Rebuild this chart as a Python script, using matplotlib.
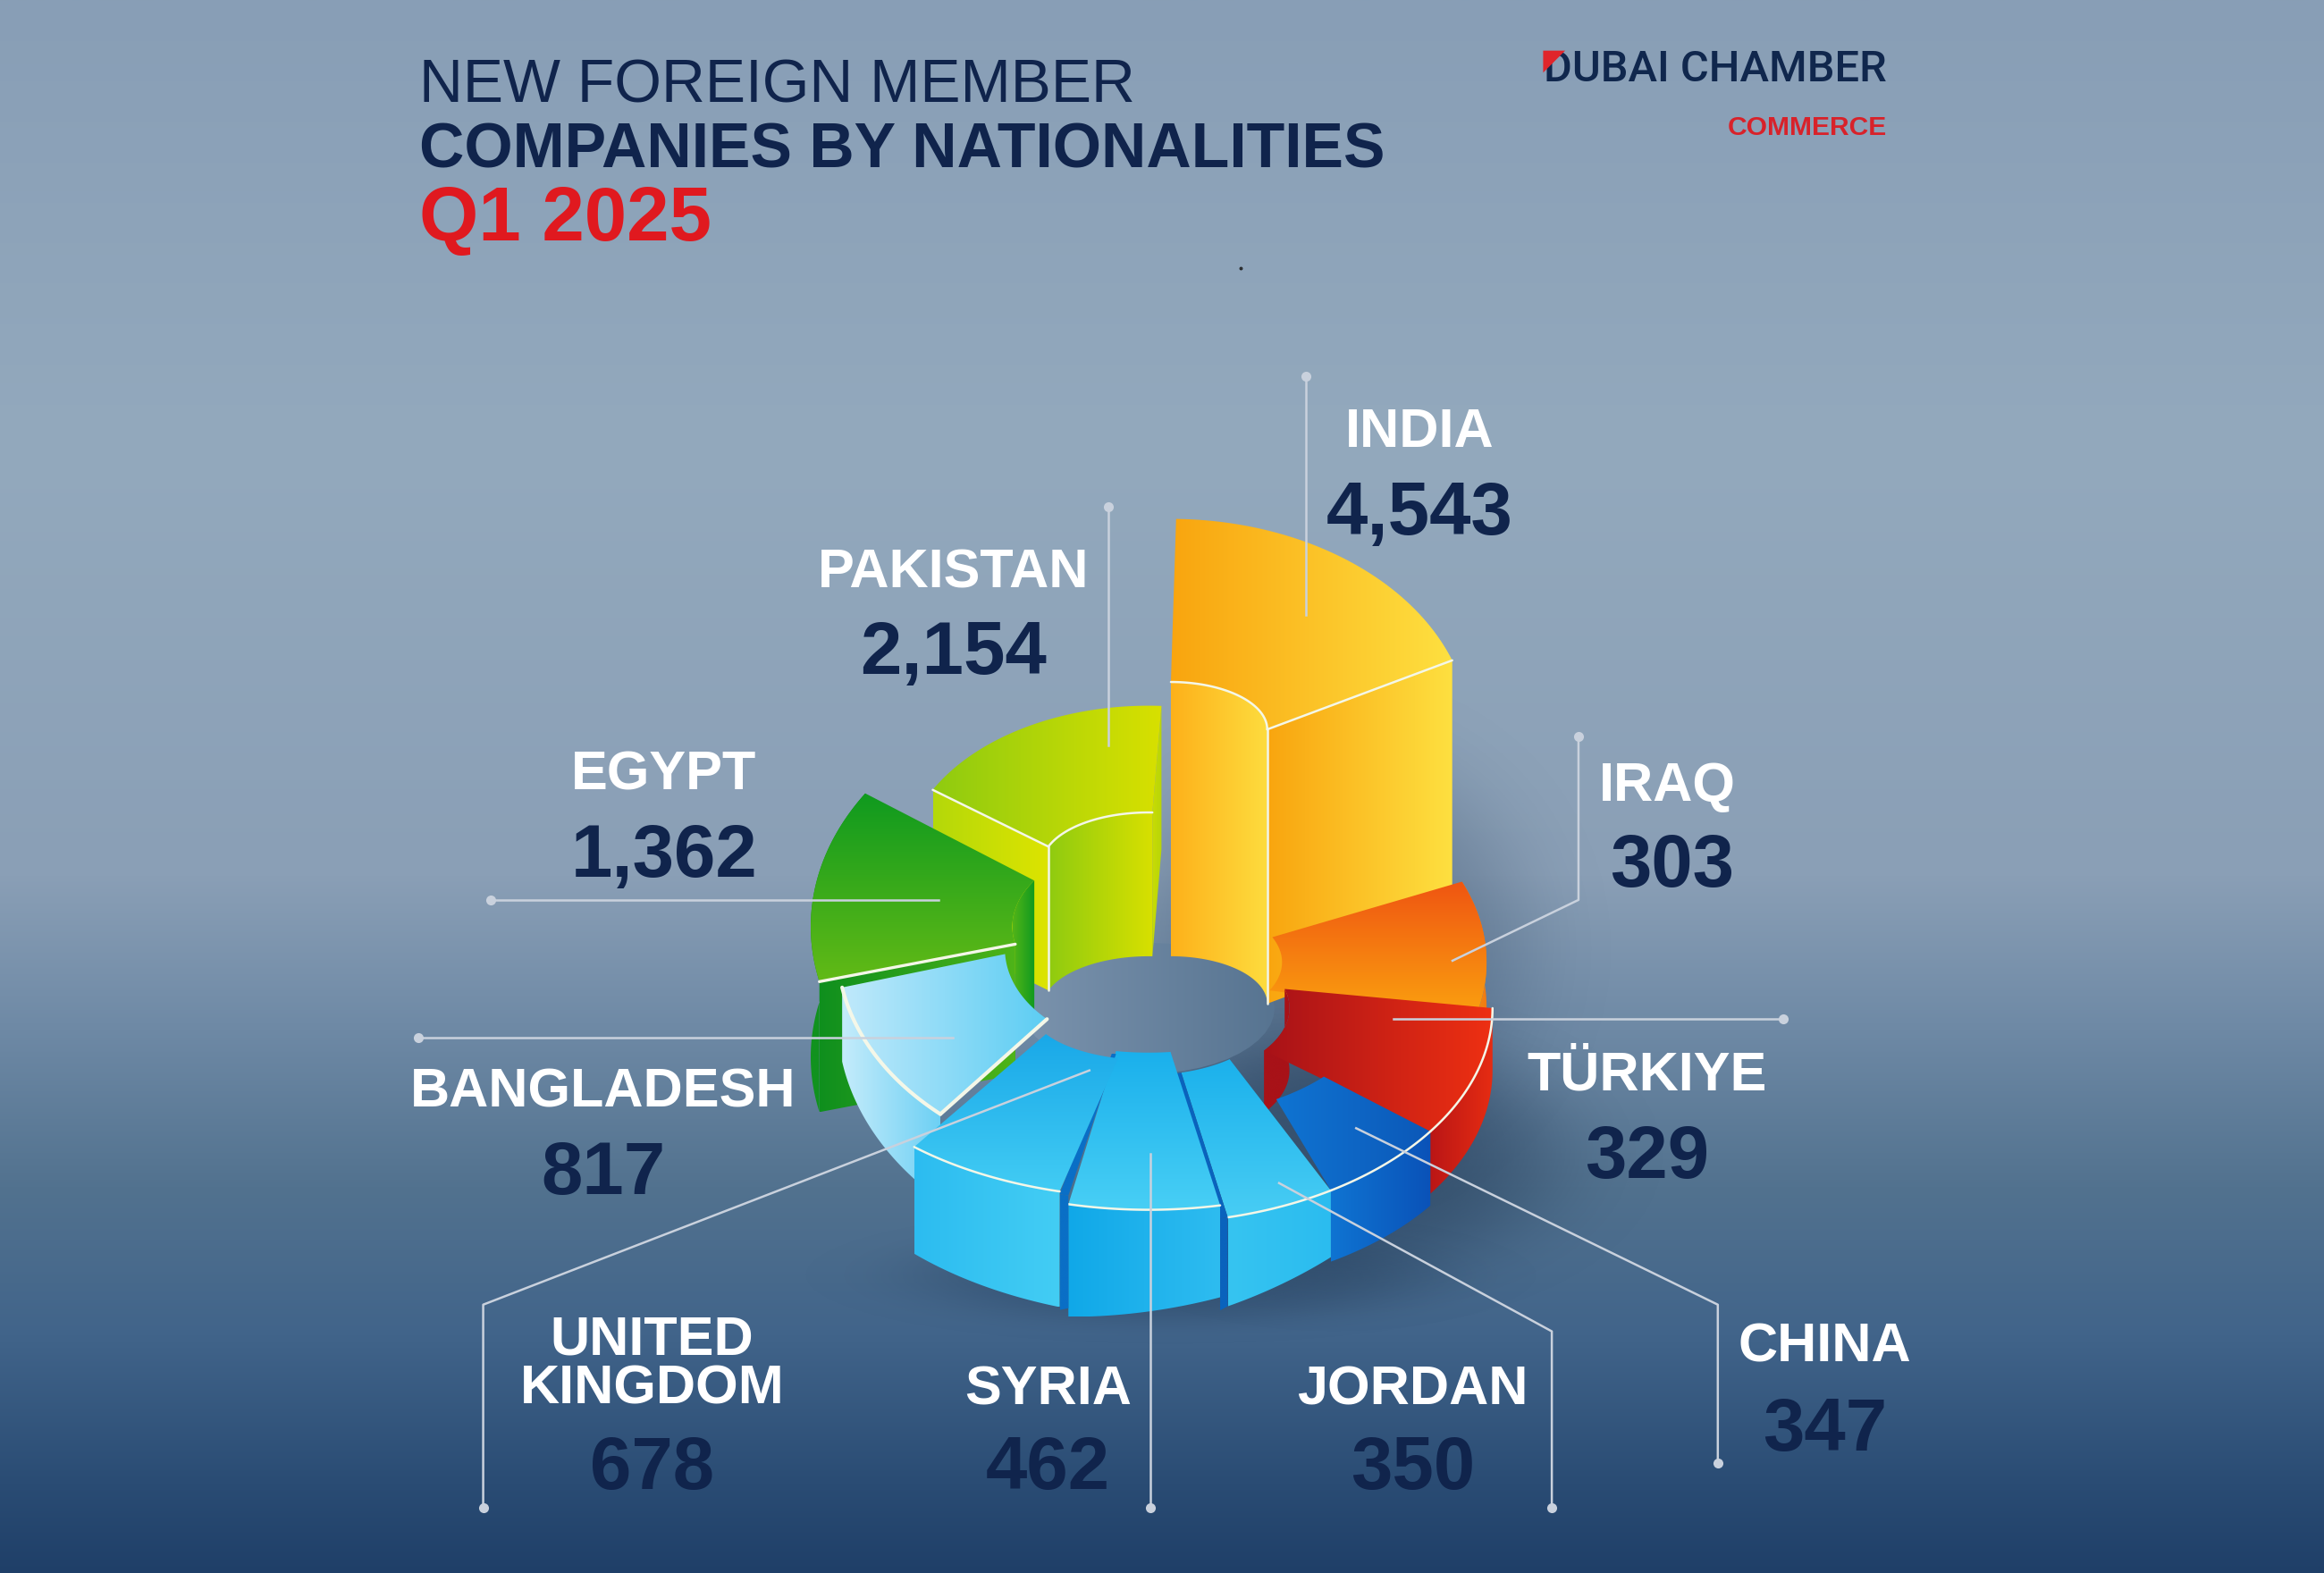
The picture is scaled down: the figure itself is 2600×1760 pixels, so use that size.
#!/usr/bin/env python3
"""New foreign member companies by nationality, Q1 2025 - illustrated 3D ring."""

import numpy as np
import matplotlib.pyplot as plt
from matplotlib.colors import LinearSegmentedColormap, to_rgb
from matplotlib.patches import Polygon

plt.rcParams['font.family'] = ['Liberation Sans', 'DejaVu Sans']

# Data
COUNTRIES = ['INDIA', 'PAKISTAN', 'EGYPT', 'BANGLADESH', 'UNITED\nKINGDOM',
             'SYRIA', 'JORDAN', 'CHINA', 'TÜRKIYE', 'IRAQ']
COMPANIES = [4543, 2154, 1362, 817, 678, 462, 350, 347, 329, 303]

# Layout is in the units of a 1568 x 1061 canvas
W, H = 1568, 1061
NAME_POS = [(958, 292), (643, 387), (448, 523), (407, 737), (440, 921),
            (707, 938), (953, 938), (1231, 909), (1111, 726), (1125, 531)]
VALUE_POS = [(958, 347), (643, 441), (448, 578), (407, 792), (440, 991),
             (707, 991), (953, 991), (1231, 965), (1111, 781), (1128, 585)]
LEADERS = [
    [(881, 254), (881, 415)],
    [(748, 342), (748, 503)],
    [(331, 607), (633, 607)],
    [(282, 700), (643, 700)],
    [(326, 1017), (326, 880), (735, 722)],
    [(776, 1017), (776, 778)],
    [(1047, 1017), (1047, 898), (863, 798)],
    [(1159, 987), (1159, 880), (915, 761)],
    [(1203, 687), (940, 687)],
    [(1065, 497), (1065, 607), (980, 648)],
]

NAVY = '#10244c'
RED = '#e0191f'
LEADER = '#c9d1dd'
BG_STOPS = [(0, '#889eb6'), (300, '#93a9bd'), (590, '#8a9fb6'), (690, '#6f8aa6'),
            (800, '#52728f'), (900, '#41648a'), (1000, '#2a4c74'), (1061, '#1f3f68')]

# The ring slices, drawn back to front.
# cx, top: centre of outer ellipse; a: outer angles; ia: inner angles; drop: wall heights
INDIA = dict(cx=790, top=495, rx=202, ry=145, a=(89, 20), itop=492, irx=65, iry=32, ia=(90, 0), drop=(185, 185),
             top_fill=('#f9a50f', '#fee040', 'x'),
             end=('#f9a50f', '#fee040', 'x'), inner=('#fdb11a', '#fedc3e', 'x'),
             lines=['end', 'inner', 'corner'])
PAKISTAN = dict(cx=775, top=583, rx=165, ry=107, a=(152, 87), itop=583, irx=72, iry=35, ia=(160, 88), drop=(97, 97),
                top_fill=('#8fcb10', '#d8e000', 'x'),
                start=('#b4d80a', '#dde400', 'x'), end=('#c8dc05', '#b8d508', 'x'), inner=('#8fcb10', '#d8e000', 'x'),
                lines=['start', 'inner', 'corner_start'])
EGYPT = dict(cx=775, top=625, rx=228, ry=165, a=(147, 193), itop=625, irx=92, iry=57, ia=(147, 192), drop=(88, 88),
             top_fill=('#0f9a1f', '#62ba16', 'y'),
             outer=('#11921f', '#11921f', 'x'), end=('#0f8f1e', '#4fb418', 'x'), inner=('#52b418', '#0f9a1f', 'x'),
             lines=['end'], lw=1.2)
IRAQ = dict(cx=775, top=649, rx=228, ry=145, a=(22, -15), itop=649, irx=90, iry=45, ia=(22, -25), drop=(30, 30),
            top_fill=('#ef5512', '#fba20f', 'y'), outer=('#f59a12', '#f07a12', 'x'))
TURKIYE = dict(cx=775, top=680, rx=232, ry=145, a=(0, -35), itop=680, irx=95, iry=50, ia=(15, -35), drop=(42, 42),
               top_fill=('#a81218', '#ee3012', 'x'),
               outer=('#ba1616', '#e62c12', 'x'), inner=('#a81218', '#a81218', 'x'), lines=['outer'])
CHINA = dict(cx=775, top=680, rx=232, ry=145, a=(-35, -58), itop=680, irx=150, iry=75, ia=(-38, -55), drop=(50, 48),
             top_fill=('#0f74d2', '#0c58b8', 'x'), outer=('#0f74d2', '#0a52b8', 'x'), lines=['outer'])
JORDAN = dict(cx=775, top=680, rx=232, ry=145, a=(-58, -76.7), itop=680, irx=85, iry=45, ia=(-50, -75), drop=(45, 60),
              top_fill=('#1bb1ec', '#48cdf4', 'y'), outer=('#36c4f1', '#2bbcef', 'x'), lines=['outer'])
GAP_1 = dict(cx=775, top=680, rx=232, ry=145, a=(-76.7, -78), itop=680, irx=85, iry=45, ia=(-75, -78), drop=(60, 62),
             top_fill=('#0a63bd', '#0a63bd', 'x'), outer=('#0a63bd', '#0a63bd', 'x'))
SYRIA = dict(cx=775, top=680, rx=232, ry=136, a=(-78, -103.5), itop=680, irx=85, iry=30, ia=(-80, -105), drop=(62, 76),
             top_fill=('#1ab0ec', '#48cff5', 'y'), outer=('#10a8e8', '#2ebcf0', 'x'), lines=['outer'])
GAP_2 = dict(cx=775, top=680, rx=232, ry=130, a=(-103.5, -105), itop=680, irx=85, iry=32, ia=(-105, -107), drop=(76, 78),
             top_fill=('#0a6fc6', '#0a6fc6', 'x'), outer=('#0a6fc6', '#0a6fc6', 'x'))
UK = dict(cx=775, top=680, rx=232, ry=128, a=(-105, -133), itop=680, irx=80, iry=35, ia=(-105, -150), drop=(78, 72),
          top_fill=('#19a8e8', '#42ccf4', 'y'), outer=('#2cbcf0', '#43cdf4', 'x'), lines=['outer'])
BANGLADESH = dict(cx=775, top=640, rx=210, ry=150, a=(-170, -132), itop=640, irx=97, iry=67, ia=(-177, -135), drop=(50, 58),
                  top_fill=None, outer=('#c5ecfb', '#6dd0f4', 'x'))
BANGLADESH_TOP = dict(BANGLADESH, top_fill=('#c0e9fb', '#5ccdf3', 'x'), outer=None, lines=['outer', 'end'], lw=1.5)
SLICES = [INDIA, PAKISTAN, EGYPT, IRAQ, TURKIYE, BANGLADESH, CHINA, JORDAN, GAP_1, SYRIA, GAP_2, UK, BANGLADESH_TOP]


def arc(cx, cy, rx, ry, a0, a1, n=50):
    t = np.radians(np.linspace(a0, a1, n))
    return np.column_stack([cx + rx * np.cos(t), cy - ry * np.sin(t)])


def gradient_fill(ax, pts, fill, z):
    c0, c1, direction = fill
    cmap = LinearSegmentedColormap.from_list('g', [c0, c1])
    ramp = np.linspace(0, 1, 256)
    img = ramp[None, :] if direction == 'x' else ramp[:, None]
    x0, y0 = pts.min(axis=0)
    x1, y1 = pts.max(axis=0)
    im = ax.imshow(img, cmap=cmap, extent=(x0, x1, y1, y0), origin='upper',
                   aspect='auto', interpolation='bilinear', zorder=z)
    im.set_clip_path(Polygon(pts, closed=True, transform=ax.transData))


def soft_shadow(ax, cx, cy, rx, ry, alpha, z):
    x, y = np.meshgrid(np.linspace(cx - 2 * rx, cx + 2 * rx, 200), np.linspace(cy - 2 * ry, cy + 2 * ry, 200))
    d = ((x - cx) / rx) ** 2 + ((y - cy) / ry) ** 2
    rgba = np.zeros((200, 200, 4))
    rgba[..., :3] = to_rgb('#1b3350')
    rgba[..., 3] = alpha * np.exp(-d ** 2)
    ax.imshow(rgba, extent=(cx - 2 * rx, cx + 2 * rx, cy + 2 * ry, cy - 2 * ry), origin='upper',
              aspect='auto', interpolation='bilinear', zorder=z)


def draw_slice(ax, s, z):
    outer = arc(s['cx'], s['top'], s['rx'], s['ry'], *s['a'])
    inner = arc(s['cx'], s['itop'], s['irx'], s['iry'], *s['ia'])
    drop = np.linspace(s['drop'][0], s['drop'][1], len(outer))
    low_outer = outer + np.column_stack([np.zeros(len(outer)), drop])
    low_inner = inner + np.column_stack([np.zeros(len(inner)), np.full(len(inner), s['drop'][0])])

    def quad(p, q, d0, d1):
        return np.array([p, q, q + [0, d1], p + [0, d0]])

    if s.get('outer'):
        gradient_fill(ax, np.vstack([outer, low_outer[::-1]]), s['outer'], z)
    if s.get('start'):
        gradient_fill(ax, quad(outer[0], inner[0], s['drop'][0], s['drop'][0]), s['start'], z + 0.1)
    if s.get('end'):
        gradient_fill(ax, quad(inner[-1], outer[-1], s['drop'][0], s['drop'][1]), s['end'], z + 0.1)
    if s.get('inner'):
        gradient_fill(ax, np.vstack([inner, low_inner[::-1]]), s['inner'], z + 0.2)
    if s.get('top_fill'):
        gradient_fill(ax, np.vstack([outer, inner[::-1]]), s['top_fill'], z + 0.3)

    edges = {
        'outer': outer,
        'inner': inner,
        'start': np.array([outer[0], inner[0]]),
        'end': np.array([outer[-1], inner[-1]]),
        'corner': np.array([inner[-1], low_inner[-1]]),
        'corner_start': np.array([inner[0], low_inner[0]]),
    }
    for name in s.get('lines', []):
        ax.plot(edges[name][:, 0], edges[name][:, 1], color='#f4f7e8', lw=s.get('lw', 0.9), zorder=z + 0.4,
                solid_capstyle='round')


def main():
    fig = plt.figure(figsize=(13, 8.8), dpi=200)
    ax = fig.add_axes([0, 0, 1, 1])

    # Background bands
    rows = np.arange(H)
    stops_y = [p[0] for p in BG_STOPS]
    stops_c = np.array([to_rgb(p[1]) for p in BG_STOPS])
    bg = np.stack([np.interp(rows, stops_y, stops_c[:, i]) for i in range(3)], axis=1)[:, None, :]
    ax.imshow(bg, extent=(0, W, H, 0), origin='upper', aspect='auto', zorder=0)

    # Shadows and the hole of the ring
    soft_shadow(ax, 900, 640, 130, 130, 0.3, 1)
    soft_shadow(ax, 900, 780, 150, 80, 0.5, 1)
    soft_shadow(ax, 790, 860, 170, 32, 0.35, 1)
    gradient_fill(ax, arc(775, 680, 85, 44, 0, 360), ('#7b93ad', '#577491', 'x'), 1.5)

    for i, s in enumerate(SLICES):
        draw_slice(ax, s, 2 + i)

    # Leaders
    for pts in LEADERS:
        xs, ys = zip(*pts)
        ax.plot(xs, ys, color=LEADER, lw=0.9, zorder=20)
        ax.plot(xs[0], ys[0], 'o', color=LEADER, ms=4, mew=0, zorder=20)

    # Labels
    for name, value, np_, vp in zip(COUNTRIES, COMPANIES, NAME_POS, VALUE_POS):
        ax.text(np_[0], np_[1], name, color='white', fontsize=22, fontweight='bold', ha='center',
                va='center', linespacing=0.95, zorder=21)
        ax.text(vp[0], vp[1], f'{value:,}', color=NAVY, fontsize=30, fontweight='bold', ha='center',
                va='center', zorder=21)

    # Title
    ax.text(283, 58, 'NEW FOREIGN MEMBER', color=NAVY, fontsize=24.4, ha='left', va='center', zorder=21)
    ax.text(283, 102, 'COMPANIES BY NATIONALITIES', color=NAVY, fontsize=25.1, fontweight='bold',
            ha='left', va='center', zorder=21)
    ax.text(283, 149, 'Q1 2025', color=RED, fontsize=30.7, fontweight='bold', ha='left', va='center', zorder=21)

    # Logo
    ax.text(1273, 47, 'DUBAI CHAMBER', color='#10274d', fontsize=17.6, ha='right', va='center',
            fontfamily=['Roboto', 'DejaVu Sans'], fontweight='medium', zorder=21)
    ax.add_patch(Polygon([(1042, 35), (1054, 35), (1042, 47)], closed=True, color='#e0252b', zorder=22))
    ax.text(1273, 86, 'COMMERCE', color='#d8222a', fontsize=10.8, fontweight='bold', ha='right',
            va='center', zorder=21)
    ax.plot(837, 181, '.', color='#1a1a1a', ms=0.8, zorder=21)

    ax.set_xlim(0, W)
    ax.set_ylim(H, 0)
    ax.axis('off')
    fig.savefig('out.png', dpi=200, facecolor='white')
    plt.close(fig)


if __name__ == '__main__':
    main()
